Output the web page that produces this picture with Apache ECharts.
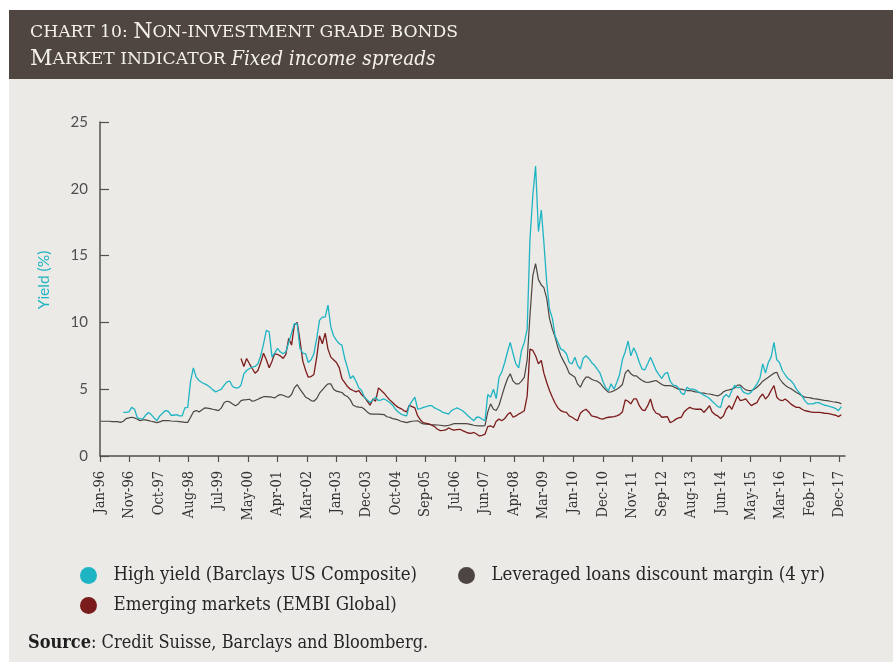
<!DOCTYPE html>
<html>
<head>
<meta charset="utf-8">
<script src="https://cdn.jsdelivr.net/npm/echarts@6/dist/echarts.min.js"></script>
<style>
  html, body { margin: 0; padding: 0; background: #ffffff; }
  #chart { width: 893px; height: 662px; }
</style>
</head>
<body>
<div id="chart"></div>
<script>
// Monthly readings (%), one value per month starting at the given month.

// Leveraged loans discount margin (4 yr), Jan 1996 - Jan 2018
const loansStart = '1996-01';
const loans = [
  2.6, 2.6, 2.6, 2.6, 2.58, 2.58, 2.57, 2.52, 2.6, 2.8, 2.85, 2.9,          // 1996
  2.85, 2.75, 2.65, 2.7, 2.7, 2.65, 2.6, 2.55, 2.5, 2.55, 2.65, 2.65,       // 1997
  2.65, 2.62, 2.6, 2.6, 2.58, 2.56, 2.52, 2.52, 2.9, 3.3, 3.4, 3.3,         // 1998
  3.45, 3.6, 3.58, 3.55, 3.5, 3.45, 3.4, 3.6, 4.0, 4.1, 4.05, 3.9,          // 1999
  3.76, 3.9, 4.15, 4.2, 4.22, 4.25, 4.1, 4.15, 4.25, 4.35, 4.44, 4.44,      // 2000
  4.42, 4.4, 4.35, 4.5, 4.6, 4.55, 4.45, 4.4, 4.6, 5.1, 5.35, 5.0,         // 2001
  4.7, 4.4, 4.3, 4.15, 4.1, 4.3, 4.7, 4.95, 5.2, 5.4, 5.4, 5.0,            // 2002
  4.85, 4.8, 4.75, 4.55, 4.45, 4.2, 3.8, 3.7, 3.66, 3.64, 3.5, 3.3,        // 2003
  3.15, 3.14, 3.14, 3.14, 3.12, 3.1, 2.94, 2.9, 2.8, 2.76, 2.7, 2.6,       // 2004
  2.55, 2.5, 2.55, 2.6, 2.62, 2.64, 2.5, 2.4, 2.38, 2.36, 2.34, 2.33,      // 2005
  2.32, 2.3, 2.28, 2.26, 2.3, 2.35, 2.43, 2.43, 2.43, 2.43, 2.42, 2.4,     // 2006
  2.35, 2.3, 2.28, 2.26, 2.26, 2.27, 3.3, 3.9, 3.5, 3.4, 3.8, 4.5,         // 2007
  5.2, 5.8, 6.15, 5.6, 5.4, 5.4, 5.6, 5.9, 7.2, 10.5, 13.5, 14.4,          // 2008
  13.2, 12.8, 12.6, 11.8, 10.3, 9.5, 8.9, 8.1, 7.5, 7.1, 6.7, 6.2,         // 2009
  6.05, 5.9, 5.4, 5.15, 5.6, 5.9, 5.9, 5.75, 5.65, 5.6, 5.45, 5.2,         // 2010
  4.95, 4.77, 4.8, 4.88, 5.0, 5.15, 5.35, 6.2, 6.45, 6.15, 6.0, 6.0,       // 2011
  5.8, 5.65, 5.55, 5.5, 5.55, 5.6, 5.65, 5.5, 5.35, 5.27, 5.27, 5.27,      // 2012
  5.2, 5.1, 5.0, 5.0, 4.95, 4.9, 4.9, 4.85, 4.8, 4.77, 4.72, 4.7,          // 2013
  4.66, 4.64, 4.6, 4.55, 4.5, 4.6, 4.8, 4.9, 4.95, 5.0, 5.1, 5.3,          // 2014
  5.3, 5.1, 4.95, 4.9, 4.9, 5.0, 5.15, 5.35, 5.6, 5.75, 5.9, 6.05,         // 2015
  6.2, 6.27, 5.8, 5.5, 5.3, 5.15, 5.05, 4.9, 4.75, 4.64, 4.5, 4.4,         // 2016
  4.38, 4.35, 4.3, 4.27, 4.24, 4.2, 4.17, 4.14, 4.1, 4.06, 4.03, 4.0,      // 2017
  3.9                                                                       // 2018
];

// High yield (Barclays US Composite), Sep 1996 - Jan 2018
const highYieldStart = '1996-09';
const highYield = [
  3.26, 3.26, 3.3, 3.64,                                                    // 1996
  3.5, 2.85, 2.8, 2.78, 3.05, 3.26, 3.1, 2.85, 2.65, 3.0, 3.2, 3.4,        // 1997
  3.35, 3.05, 3.05, 3.1, 3.0, 3.0, 3.6, 3.64, 5.6, 6.6, 5.9, 5.65,         // 1998
  5.5, 5.4, 5.3, 5.15, 4.95, 4.8, 4.9, 5.0, 5.3, 5.55, 5.6, 5.2,           // 1999
  5.1, 5.1, 5.3, 6.15, 6.4, 6.55, 6.65, 6.7, 6.9, 7.5, 8.4, 9.4,           // 2000
  9.3, 7.4, 7.7, 8.05, 7.8, 7.65, 7.8, 8.5, 9.2, 9.9, 9.9, 8.05,           // 2001
  7.7, 7.65, 7.0, 7.2, 7.65, 8.8, 10.15, 10.4, 10.4, 11.3, 9.66, 9.0,      // 2002
  8.66, 8.4, 8.3, 7.3, 6.6, 5.8, 6.0, 5.6, 5.1, 4.9, 4.4, 4.2,             // 2003
  4.0, 4.2, 4.4, 4.15, 4.2, 4.27, 4.15, 4.0, 3.8, 3.5, 3.3, 3.14,          // 2004
  3.05, 3.0, 3.77, 4.1, 4.4, 3.5, 3.55, 3.64, 3.7, 3.77, 3.77, 3.6,        // 2005
  3.5, 3.4, 3.26, 3.2, 3.14, 3.4, 3.5, 3.6, 3.5, 3.39, 3.2, 3.0,           // 2006
  2.8, 2.64, 2.9, 2.9, 2.75, 2.64, 4.6, 4.4, 5.0, 4.3, 5.9, 6.3,           // 2007
  7.0, 7.8, 8.5, 7.65, 6.9, 6.6, 7.9, 8.5, 9.5, 16.2, 19.5, 21.7,          // 2008
  16.8, 18.4, 16.0, 13.0, 11.0, 10.3, 9.0, 8.5, 8.0, 7.9, 7.65, 7.0,       // 2009
  6.9, 7.4, 6.8, 6.5, 7.3, 7.5, 7.3, 7.0, 6.8, 6.5, 6.2, 5.6,              // 2010
  5.1, 4.9, 5.4, 5.0, 5.5, 6.1, 7.2, 7.8, 8.6, 7.5, 8.1, 7.65,             // 2011
  7.0, 6.5, 6.45, 6.9, 7.4, 6.9, 6.4, 6.1, 5.8, 6.15, 6.27, 5.6,           // 2012
  5.3, 5.27, 5.1, 4.7, 4.6, 5.15, 5.0, 5.0, 4.95, 4.8, 4.7, 4.55,          // 2013
  4.45, 4.3, 4.1, 3.9, 3.7, 3.64, 4.4, 4.6, 4.4, 4.9, 5.3, 5.1,            // 2014
  5.15, 4.8, 4.7, 4.64, 4.8, 5.1, 5.4, 5.8, 6.9, 6.2, 7.0, 7.4,            // 2015
  8.5, 7.2, 7.0, 6.4, 6.1, 5.8, 5.65, 5.4, 5.0, 4.75, 4.5, 4.14,           // 2016
  3.9, 3.9, 3.9, 4.0, 4.0, 3.9, 3.8, 3.77, 3.7, 3.64, 3.55, 3.39,          // 2017
  3.7                                                                       // 2018
];

// Emerging markets (EMBI Global), Mar 2000 - Jan 2018
const emergingStart = '2000-03';
const emerging = [
  7.3, 6.7, 7.3, 6.9, 6.55, 6.2, 6.4, 7.0, 7.7, 7.2,                       // 2000
  6.6, 7.1, 7.65, 7.6, 7.5, 7.3, 7.6, 8.8, 8.3, 9.8, 10.0, 8.66,           // 2001
  7.1, 6.4, 5.9, 5.95, 6.1, 7.4, 9.0, 8.4, 9.2, 8.0, 7.4, 7.2,             // 2002
  7.0, 6.6, 5.8, 5.5, 5.2, 5.0, 4.9, 4.8, 4.9, 4.6, 4.4, 4.1,              // 2003
  3.8, 4.27, 4.1, 5.1, 4.9, 4.7, 4.45, 4.2, 4.0, 3.8, 3.64, 3.55,          // 2004
  3.4, 3.3, 3.8, 3.7, 3.6, 3.0, 2.7, 2.5, 2.45, 2.4, 2.3, 2.2,             // 2005
  2.0, 1.9, 1.92, 1.95, 2.1, 2.0, 1.93, 1.97, 2.0, 1.9, 1.8, 1.72,         // 2006
  1.7, 1.76, 1.65, 1.5, 1.55, 1.63, 2.2, 2.26, 2.13, 2.6, 2.76, 2.64,      // 2007
  2.8, 3.1, 3.26, 2.9, 3.0, 3.14, 3.25, 3.39, 4.5, 8.0, 7.9, 7.5,          // 2008
  6.9, 7.15, 6.2, 5.5, 4.9, 4.4, 3.95, 3.6, 3.39, 3.3, 3.26, 3.0,          // 2009
  2.9, 2.75, 2.64, 3.2, 3.39, 3.5, 3.3, 3.0, 2.95, 2.9, 2.8, 2.76,         // 2010
  2.85, 2.9, 2.92, 2.94, 3.0, 3.1, 3.3, 4.2, 4.1, 3.9, 4.27, 4.27,         // 2011
  3.77, 3.45, 3.4, 3.77, 4.27, 3.5, 3.2, 3.14, 2.9, 2.92, 2.94, 2.5,       // 2012
  2.6, 2.76, 2.85, 2.9, 3.3, 3.5, 3.64, 3.55, 3.5, 3.5, 3.5, 3.26,         // 2013
  3.5, 3.77, 3.3, 3.1, 3.0, 2.8, 3.0, 3.5, 3.77, 3.5, 4.0, 4.5,            // 2014
  4.14, 4.2, 4.27, 4.0, 3.77, 3.9, 4.0, 4.4, 4.64, 4.27, 4.5, 4.9,         // 2015
  5.27, 4.4, 4.2, 4.14, 4.27, 4.1, 3.9, 3.75, 3.64, 3.64, 3.5, 3.39,       // 2016
  3.35, 3.3, 3.26, 3.26, 3.26, 3.24, 3.2, 3.19, 3.15, 3.1, 3.05, 2.95,     // 2017
  3.09                                                                      // 2018
];

const seriesNames = [
  'High yield (Barclays US Composite)',
  'Leveraged loans discount margin (4 yr)',
  'Emerging markets (EMBI Global)'
];
const seriesColors = ['#1db4c3', '#4d4541', '#7b1c1c'];

// Date axis: days counted from the first observation; a label every 321 days.
const DAY = 86400000;
const ORIGIN = Date.UTC(1996, 0, 6);
const LABEL_STEP = 321;
const LABEL_COUNT = 26;
const AXIS_END = 8085;
const monthNames = ['Jan','Feb','Mar','Apr','May','Jun','Jul','Aug','Sep','Oct','Nov','Dec'];
const yTicks = [0, 5, 10, 15, 20, 25];

const tickDays = Array.from({ length: LABEL_COUNT }, (_, k) => k * LABEL_STEP);

function toPoints(start, values) {
  const [y, m] = start.split('-').map(Number);
  return values.map((v, i) => [(Date.UTC(y, m - 1 + i, 15) - ORIGIN) / DAY, v]);
}
function dayLabel(d) {
  const dt = new Date(ORIGIN + d * DAY);
  return monthNames[dt.getUTCMonth()] + '-' + String(dt.getUTCFullYear()).slice(2);
}

const SERIF = "'DejaVu Serif Condensed', 'DejaVu Serif', serif";
const TITLE_SERIF = "'DejaVu Serif', serif";
const chart = echarts.init(document.getElementById('chart'), null, { renderer: 'canvas' });

function legendAt(name, left, top) {
  return {
    data: [name], left: left, top: top, icon: 'circle',
    itemWidth: 40, itemHeight: 17,
    textStyle: { fontFamily: SERIF, fontSize: 18.5, color: '#262626' },
    selectedMode: false
  };
}

chart.setOption({
  backgroundColor: '#ffffff',
  animation: false,
  graphic: [
    { type: 'rect', z: -10, silent: true, shape: { x: 9, y: 79, width: 884, height: 583 }, style: { fill: '#eceae6' } },
    { type: 'rect', z: -10, silent: true, shape: { x: 9, y: 10, width: 884, height: 69 }, style: { fill: '#4f4641' } },
    {
      type: 'text', left: 28, top: 634, silent: true,
      style: {
        text: '{b|Source}{n|: Credit Suisse, Barclays and Bloomberg.}',
        rich: {
          b: { fontFamily: SERIF, fontSize: 18, fontWeight: 'bold', fill: '#1e1e1e' },
          n: { fontFamily: SERIF, fontSize: 18, fill: '#262626' }
        }
      }
    }
  ],
  title: {
    left: 25, top: 14,
    text: '{sc|CHART 10: }{cap|N}{sc|ON-INVESTMENT GRADE BONDS}\n{cap|M}{sc|ARKET INDICATOR }{it|Fixed income spreads}',
    textStyle: {
      fontWeight: 'normal',
      rich: {
        sc: { fontFamily: TITLE_SERIF, fontWeight: 'normal', fontSize: 17.2, color: '#f4f0ea', lineHeight: 27 },
        cap: { fontFamily: TITLE_SERIF, fontWeight: 'normal', fontSize: 22, color: '#f4f0ea', lineHeight: 27 },
        it: { fontFamily: SERIF, fontWeight: 'normal', fontStyle: 'italic', fontSize: 20.5, color: '#f4f0ea', lineHeight: 27 }
      }
    }
  },
  legend: [
    legendAt(seriesNames[0], 75, 561),
    legendAt(seriesNames[1], 453, 561),
    legendAt(seriesNames[2], 75, 591)
  ],
  grid: { left: 100, right: 48, top: 122, bottom: 206, containLabel: false },
  xAxis: {
    type: 'value',
    min: 0, max: AXIS_END, interval: LABEL_STEP,
    splitLine: { show: false },
    axisLine: { show: true, onZero: false, lineStyle: { color: '#56504c', width: 1.5 } },
    axisTick: { show: true, customValues: tickDays, length: 6, lineStyle: { color: '#56504c', width: 1.2 } },
    axisLabel: {
      customValues: tickDays, rotate: 90, margin: 15,
      fontFamily: SERIF, fontSize: 14.5, color: '#333333',
      formatter: dayLabel
    }
  },
  yAxis: {
    type: 'value', min: 0, max: 25, interval: 5,
    name: 'Yield (%)', nameLocation: 'middle', nameGap: 48,
    nameTextStyle: { color: '#1db4c3', fontFamily: 'Lato, sans-serif', fontSize: 15.5, padding: [0, 0, 0, 18] },
    splitLine: { show: false },
    axisLine: { show: true, lineStyle: { color: '#56504c', width: 1.5 } },
    axisTick: { show: true, inside: true, length: 9, lineStyle: { color: '#56504c', width: 1.2 } },
    axisLabel: {
      customValues: yTicks, margin: 12,
      fontFamily: 'Lato, sans-serif', fontSize: 15, color: '#4f4f4f'
    }
  },
  series: [
    {
      name: seriesNames[1], type: 'line', data: toPoints(loansStart, loans),
      showSymbol: false, color: seriesColors[1], lineStyle: { width: 1.2 }, z: 2
    },
    {
      name: seriesNames[2], type: 'line', data: toPoints(emergingStart, emerging),
      showSymbol: false, color: seriesColors[2], lineStyle: { width: 1.3 }, z: 3
    },
    {
      name: seriesNames[0], type: 'line', data: toPoints(highYieldStart, highYield),
      showSymbol: false, color: seriesColors[0], lineStyle: { width: 1.3 }, z: 4
    }
  ]
});
</script>
</body>
</html>
